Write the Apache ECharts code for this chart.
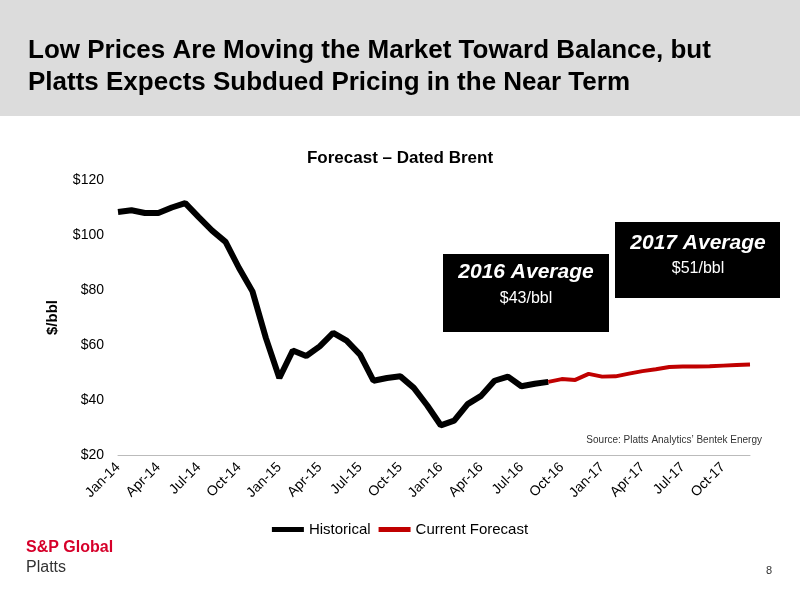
<!DOCTYPE html>
<html><head><meta charset="utf-8">
<script src="https://cdn.jsdelivr.net/npm/echarts@6/dist/echarts.min.js"></script>
<style>body{margin:0}#c{width:800px;height:600px}</style></head>
<body><div id="c"></div>
<script>
const months=['Jan','Feb','Mar','Apr','May','Jun','Jul','Aug','Sep','Oct','Nov','Dec'];
const categories=[];
for(const y of ['14','15','16','17'])for(const m of months)categories.push(m+'-'+y);
const historical=[108.4,109,108,108,110,111.6,106.5,101.6,97.5,88,79.5,62.5,48,58,56,59.5,64.4,61.6,56.5,47,48,48.6,44.4,38,30.8,32.5,38.5,41.5,47,48.5,45,45.9,46.6];
const forecast=[46.6,47.6,47.3,49.5,48.5,48.6,49.6,50.5,51.2,52,52.2,52.2,52.3,52.5,52.7,52.9];
const histData=categories.map((c,i)=>i<historical.length?historical[i]:null);
const fcData=categories.map((c,i)=>i>=32?forecast[i-32]:null);
const chart=echarts.init(document.getElementById('c'));
const F='Liberation Sans';
chart.setOption({
 textStyle:{fontFamily:F},
 graphic:[
  {type:'rect',shape:{x:0,y:0,width:800,height:116},style:{fill:'#dcdcdc'}},
  {type:'text',left:28,top:35,style:{text:'Low Prices Are Moving the Market Toward Balance, but\nPlatts Expects Subdued Pricing in the Near Term',font:'bold 26px Liberation Sans',fill:'#000',lineHeight:32}},
  {type:'rect',shape:{x:443,y:254,width:166,height:78},style:{fill:'#000'}},
  {type:'text',x:526,y:272,style:{text:'2016 Average',font:'italic bold 21px Liberation Sans',fill:'#fff',align:'center',verticalAlign:'middle'}},
  {type:'text',x:526,y:299,style:{text:'$43/bbl',font:'16px Liberation Sans',fill:'#fff',align:'center',verticalAlign:'middle'}},
  {type:'rect',shape:{x:615,y:222,width:165,height:76},style:{fill:'#000'}},
  {type:'text',x:698,y:243,style:{text:'2017 Average',font:'italic bold 21px Liberation Sans',fill:'#fff',align:'center',verticalAlign:'middle'}},
  {type:'text',x:698,y:269,style:{text:'$51/bbl',font:'16px Liberation Sans',fill:'#fff',align:'center',verticalAlign:'middle'}},
  {type:'text',x:762,y:440,style:{text:'Source: Platts Analytics\u2019 Bentek Energy',font:'10px Liberation Sans',fill:'#333',align:'right',verticalAlign:'middle'}},
  {type:'text',x:26,y:548,style:{text:'S&P Global',font:'bold 16px Liberation Sans',fill:'#d6002a',verticalAlign:'middle'}},
  {type:'text',x:26,y:568,style:{text:'Platts',font:'16px Liberation Sans',fill:'#333',verticalAlign:'middle'}},
  {type:'text',x:772,y:571,style:{text:'8',font:'11px Liberation Sans',fill:'#333',align:'right',verticalAlign:'middle'}}
 ],
 title:{text:'Forecast \u2013 Dated Brent',left:'center',top:145,textStyle:{fontSize:17,fontWeight:'bold',color:'#000'}},
 legend:{bottom:58,left:'center',itemWidth:32,itemHeight:5,icon:'rect',textStyle:{fontSize:15,color:'#000'},data:['Historical','Current Forecast']},
 grid:{left:118,right:50,top:180,bottom:145},
 xAxis:{type:'category',data:categories,boundaryGap:false,
  axisLine:{lineStyle:{color:'#bbb'}},axisTick:{show:false},
  axisLabel:{interval:2,rotate:45,fontSize:14,color:'#000',margin:10}},
 yAxis:{type:'value',min:20,max:120,interval:20,name:'$/bbl',nameLocation:'middle',nameGap:58,
  nameTextStyle:{fontSize:15,fontWeight:'bold',color:'#000'},
  axisLabel:{formatter:'${value}',fontSize:14,color:'#000',margin:14},splitLine:{show:false},axisLine:{show:false}},
 series:[
  {name:'Historical',type:'line',data:histData,symbol:'none',lineStyle:{width:6,color:'#000'},itemStyle:{color:'#000'}},
  {name:'Current Forecast',type:'line',data:fcData,symbol:'none',lineStyle:{width:4,color:'#c00000'},itemStyle:{color:'#c00000'}}
 ]
});
</script></body></html>
